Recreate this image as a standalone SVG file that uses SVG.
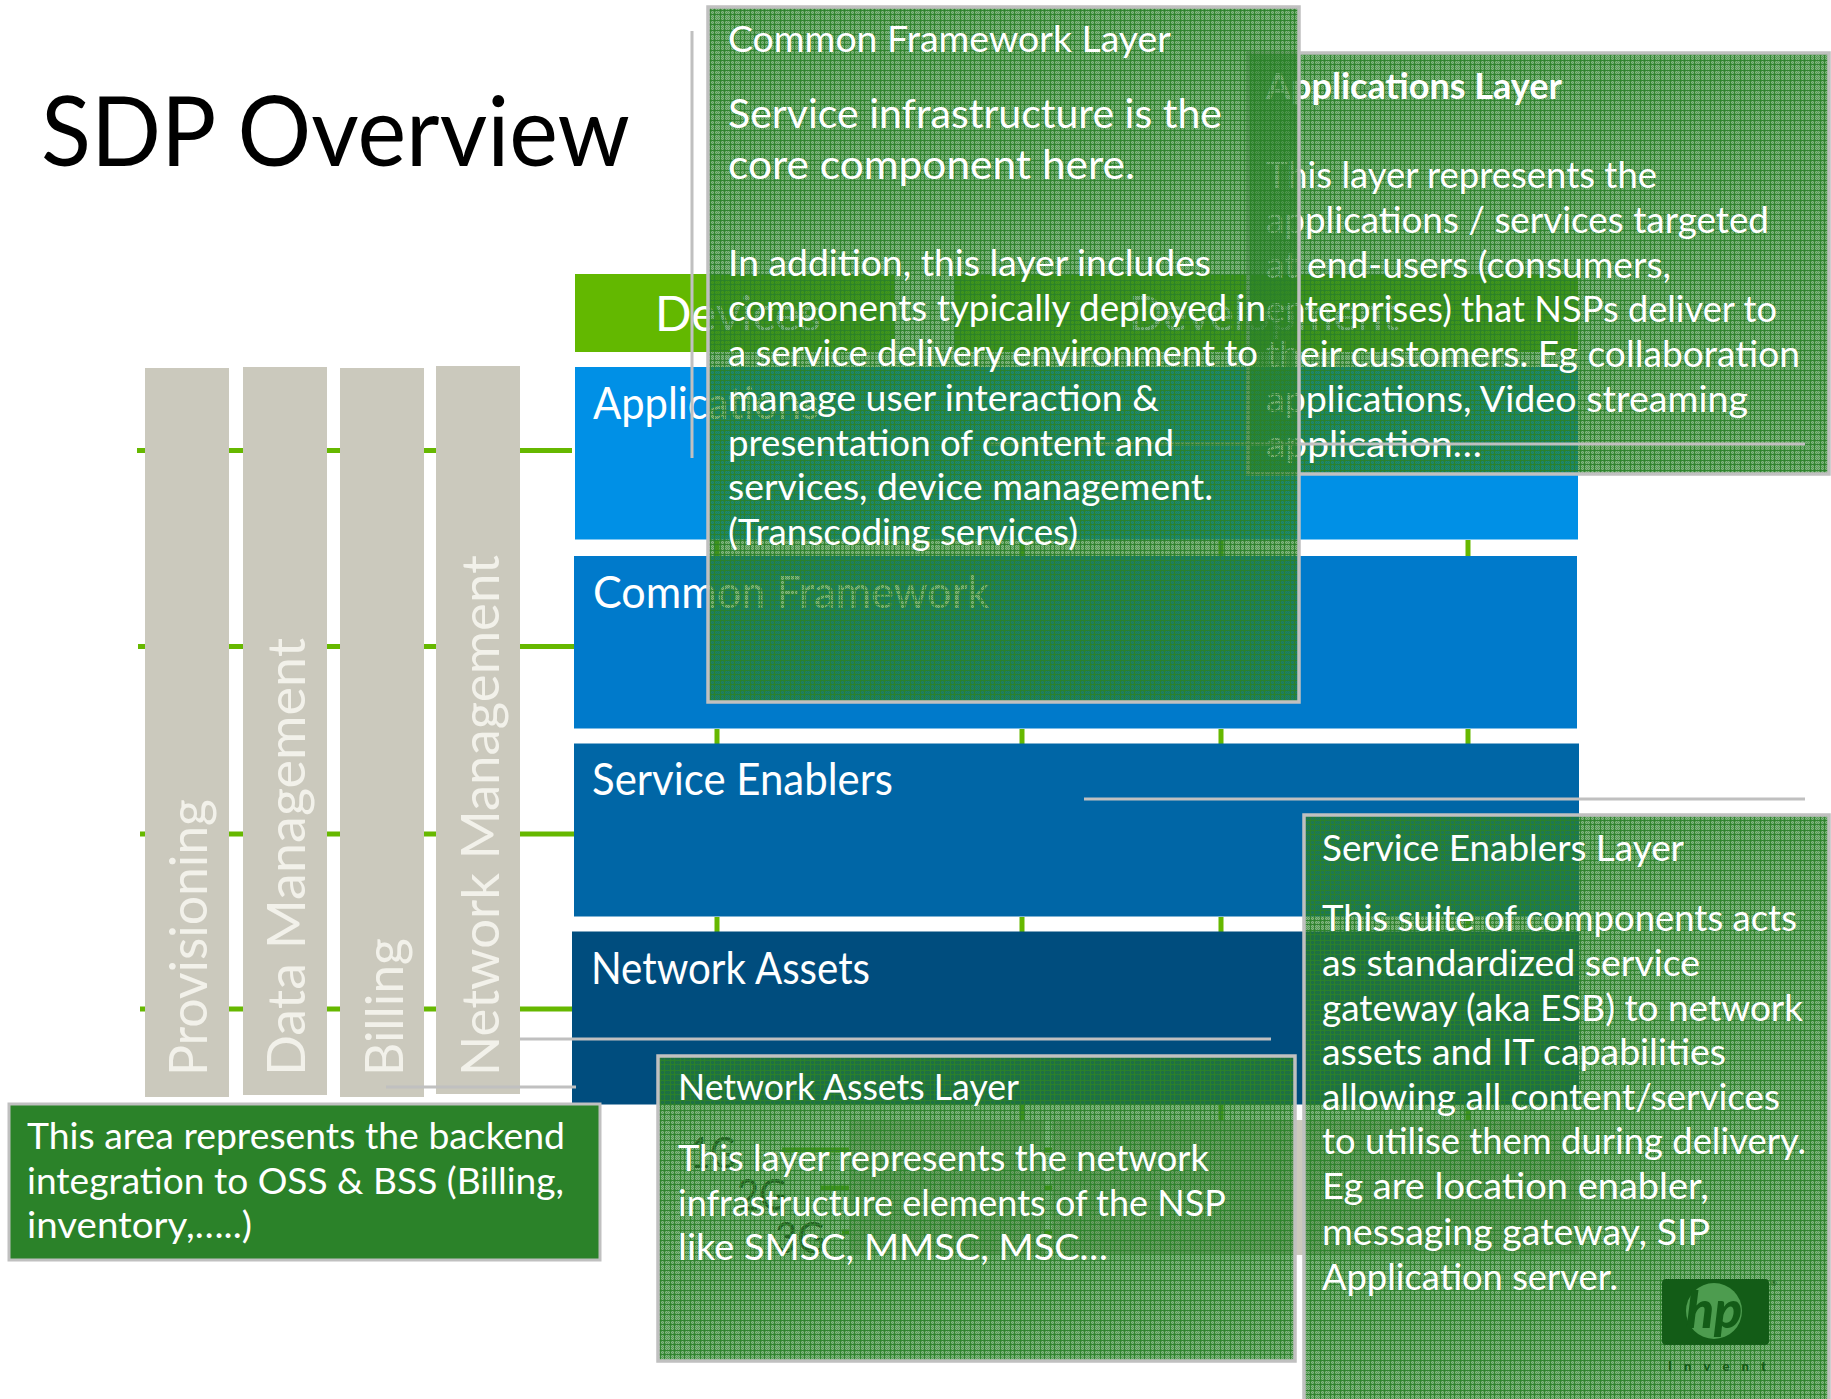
<svg xmlns="http://www.w3.org/2000/svg" width="1831" height="1399" viewBox="0 0 1831 1399">
<style>
text{font-family:"Lato","Liberation Sans",sans-serif}
.b{font-size:36px;fill:#fff}
.b2{font-size:41px;fill:#fff}
.h{font-size:44px;fill:#fff}
.col{font-size:52px;fill:#f2f1ea}
.g{fill:#66b800}
.lead{stroke:#c0c0c0;stroke-width:3;fill:none}
.colbox{fill:#cbc9bd}
.box{fill:url(#mesh);stroke:#c0c0c0;stroke-width:3.5}
</style>
<defs>
<pattern id="chk" width="2" height="2" patternUnits="userSpaceOnUse"><rect width="1" height="1" fill="#2b8229" fill-opacity=".5"/><rect x="1" y="1" width="1" height="1" fill="#2b8229" fill-opacity=".5"/></pattern>
<pattern id="mesh" width="10" height="10" patternUnits="userSpaceOnUse">
<rect width="10" height="10" fill="#2b8229" fill-opacity=".58" shape-rendering="crispEdges"/>
<rect width="10" height="10" fill="url(#chk)" shape-rendering="crispEdges"/>
<rect width="1" height="10" fill="#2b8229" fill-opacity=".9" shape-rendering="crispEdges"/>
<rect x="4" width="1" height="10" fill="#2b8229" fill-opacity=".9" shape-rendering="crispEdges"/>
<rect width="10" height="1" fill="#2b8229" fill-opacity=".9" shape-rendering="crispEdges"/>
<rect y="4" width="10" height="1" fill="#2b8229" fill-opacity=".9" shape-rendering="crispEdges"/>
</pattern>
</defs>
<rect width="1831" height="1399" fill="#fff"/>
<g id="title"><text x="41" y="166" font-size="96" fill="#000" textLength="589" lengthAdjust="spacingAndGlyphs">SDP Overview</text></g>

<g id="connectors">
<rect class="g" x="137" y="448" width="435" height="5"/>
<rect class="g" x="138" y="644" width="436" height="5"/>
<rect class="g" x="140" y="831.500" width="434" height="5"/>
<rect class="g" x="140" y="1006.500" width="432" height="5"/>
<rect class="g" x="714.500" y="540" width="5" height="16"/><rect class="g" x="1019.500" y="540" width="5" height="16"/><rect class="g" x="1218.500" y="540" width="5" height="16"/><rect class="g" x="1465.500" y="540" width="5" height="16"/>
<rect class="g" x="714.500" y="729" width="5" height="15"/><rect class="g" x="1019.500" y="729" width="5" height="15"/><rect class="g" x="1218.500" y="729" width="5" height="15"/><rect class="g" x="1465.500" y="729" width="5" height="15"/>
<rect class="g" x="714.500" y="917" width="5" height="15"/><rect class="g" x="1019.500" y="917" width="5" height="15"/><rect class="g" x="1218.500" y="917" width="5" height="15"/><rect class="g" x="1465.500" y="917" width="5" height="15"/>
<rect class="g" x="1019.500" y="1105" width="5" height="15"/><rect class="g" x="1218.500" y="1105" width="5" height="15"/><rect class="g" x="1465.500" y="1105" width="5" height="15"/>
<rect class="g" x="782" y="1147.500" width="270" height="5"/>
<rect class="g" x="821" y="1185.500" width="231" height="5"/>
<rect class="g" x="842" y="1229.500" width="210" height="5"/>
</g>

<g id="devices"><rect x="575" y="274" width="320" height="78" fill="#63b800"/><text x="655" y="331" font-size="48" fill="#fff">Devices</text></g>
<g id="development"><rect x="954" y="274" width="624" height="78" fill="#63b800"/><text x="1129" y="331" font-size="48" fill="#fff" textLength="270" lengthAdjust="spacingAndGlyphs">Development</text></g>
<g id="applications"><rect x="575" y="367" width="1003" height="172.500" fill="#0090e6"/><text class="h" x="593" y="419" textLength="226" lengthAdjust="spacingAndGlyphs">Applications</text></g>
<g id="common-framework"><rect x="574" y="556" width="1003" height="172.500" fill="#007acb"/><text class="h" x="593" y="608" textLength="396" lengthAdjust="spacingAndGlyphs">Common Framework</text></g>
<g id="service-enablers"><rect x="574" y="743.500" width="1005" height="173" fill="#0066a6"/><text class="h" x="592" y="795" textLength="301" lengthAdjust="spacingAndGlyphs">Service Enablers</text></g>
<g id="network-assets"><rect x="572" y="931.500" width="1007" height="173" fill="#004d7e"/><text class="h" x="591" y="984" textLength="279" lengthAdjust="spacingAndGlyphs">Network Assets</text></g>

<g id="generations" fill="#222">
<text x="690" y="1168" font-size="42" textLength="46" lengthAdjust="spacingAndGlyphs">1G</text>
<text x="737" y="1210" font-size="42" textLength="50" lengthAdjust="spacingAndGlyphs">2G</text>
<text x="775" y="1253" font-size="42" textLength="50" lengthAdjust="spacingAndGlyphs">3G</text>
<rect class="colbox" x="849" y="1120" width="195" height="135"/>
<rect class="colbox" x="1052" y="1120" width="527" height="135"/>
</g>

<g id="provisioning"><rect class="colbox" x="145" y="368" width="84" height="729"/><text class="col" transform="translate(206.500 1076) rotate(-90)" textLength="277" lengthAdjust="spacingAndGlyphs">Provisioning</text></g>
<g id="data-management"><rect class="colbox" x="243" y="367" width="84" height="728"/><text class="col" transform="translate(304.500 1076) rotate(-90)" textLength="438" lengthAdjust="spacingAndGlyphs">Data Management</text></g>
<g id="billing"><rect class="colbox" x="340" y="368" width="84" height="729"/><text class="col" transform="translate(402.500 1076) rotate(-90)" textLength="138" lengthAdjust="spacingAndGlyphs">Billing</text></g>
<g id="network-management"><rect class="colbox" x="436" y="366" width="84" height="728"/><text class="col" transform="translate(499 1076) rotate(-90)" textLength="521" lengthAdjust="spacingAndGlyphs">Network Management</text></g>

<g id="applications-layer">
<rect class="box" x="1248" y="53" width="581" height="421"/>
<text class="b" x="1266" y="99" font-weight="700" textLength="296" lengthAdjust="spacingAndGlyphs">Applications Layer</text>
<text class="b" x="1266" y="188" textLength="391" lengthAdjust="spacingAndGlyphs">This layer represents the</text>
<text class="b" x="1266" y="233" textLength="503" lengthAdjust="spacingAndGlyphs">applications / services targeted</text>
<text class="b" x="1266" y="278" textLength="405" lengthAdjust="spacingAndGlyphs">at end-users (consumers,</text>
<text class="b" x="1266" y="322" textLength="511" lengthAdjust="spacingAndGlyphs">enterprises) that NSPs deliver to</text>
<text class="b" x="1266" y="367" textLength="534" lengthAdjust="spacingAndGlyphs">their customers. Eg collaboration</text>
<text class="b" x="1266" y="412" textLength="482" lengthAdjust="spacingAndGlyphs">applications, Video streaming</text>
<text class="b" x="1266" y="457" textLength="216" lengthAdjust="spacingAndGlyphs">application…</text>
</g>

<g id="leaders">
<path class="lead" d="M692 31V458"/>
<path class="lead" d="M984 444H1805"/>
<path class="lead" d="M1084 799H1805"/>
<path class="lead" d="M520 1039H1271"/>
<path class="lead" d="M386 1087H576" stroke="#b8b8c0"/>
</g>

<g id="common-framework-layer">
<rect class="box" x="708" y="7" width="591" height="695"/>
<text class="b" x="728" y="52" textLength="443" lengthAdjust="spacingAndGlyphs">Common Framework Layer</text>
<text class="b2" x="728" y="128" textLength="494" lengthAdjust="spacingAndGlyphs">Service infrastructure is the</text>
<text class="b2" x="728" y="179" textLength="407" lengthAdjust="spacingAndGlyphs">core component here.</text>
<text class="b" x="728" y="276" textLength="483" lengthAdjust="spacingAndGlyphs">In addition, this layer includes</text>
<text class="b" x="728" y="321" textLength="538" lengthAdjust="spacingAndGlyphs">components typically deployed in</text>
<text class="b" x="728" y="366" textLength="530" lengthAdjust="spacingAndGlyphs">a service delivery environment to</text>
<text class="b" x="728" y="411" textLength="431" lengthAdjust="spacingAndGlyphs">manage user interaction &amp;</text>
<text class="b" x="728" y="456" textLength="446" lengthAdjust="spacingAndGlyphs">presentation of content and</text>
<text class="b" x="728" y="500" textLength="485" lengthAdjust="spacingAndGlyphs">services, device management.</text>
<text class="b" x="728" y="545" textLength="350" lengthAdjust="spacingAndGlyphs">(Transcoding services)</text>
</g>

<g id="service-enablers-layer">
<rect class="box" x="1304" y="815" width="525" height="590"/>
<text class="b" x="1322" y="861" textLength="362" lengthAdjust="spacingAndGlyphs">Service Enablers Layer</text>
<text class="b" x="1322" y="931" textLength="475" lengthAdjust="spacingAndGlyphs">This suite of components acts</text>
<text class="b" x="1322" y="976" textLength="378" lengthAdjust="spacingAndGlyphs">as standardized service</text>
<text class="b" x="1322" y="1021" textLength="481" lengthAdjust="spacingAndGlyphs">gateway (aka ESB) to network</text>
<text class="b" x="1322" y="1065" textLength="404" lengthAdjust="spacingAndGlyphs">assets and IT capabilities</text>
<text class="b" x="1322" y="1110" textLength="458" lengthAdjust="spacingAndGlyphs">allowing all content/services</text>
<text class="b" x="1322" y="1154" textLength="484" lengthAdjust="spacingAndGlyphs">to utilise them during delivery.</text>
<text class="b" x="1322" y="1199" textLength="387" lengthAdjust="spacingAndGlyphs">Eg are location enabler,</text>
<text class="b" x="1322" y="1245" textLength="388" lengthAdjust="spacingAndGlyphs">messaging gateway, SIP</text>
<text class="b" x="1322" y="1290" textLength="296" lengthAdjust="spacingAndGlyphs">Application server.</text>
</g>

<g id="hp-logo">
<rect x="1662" y="1279" width="107" height="66" rx="4" fill="#135c17"/>
<circle cx="1714" cy="1311" r="28" fill="#4d9c4f"/>
<text x="1714" y="1328" font-size="52" font-style="italic" font-weight="900" text-anchor="middle" fill="#135c17">hp</text>
<text x="1668" y="1371" font-size="13" font-weight="900" fill="#135c17" textLength="98">Invent</text>
<text x="1771" y="1286" font-size="7" fill="#135c17">®</text>
</g>

<g id="network-assets-layer">
<rect class="box" x="658" y="1056" width="637" height="305"/>
<text class="b" x="678" y="1100" textLength="341" lengthAdjust="spacingAndGlyphs">Network Assets Layer</text>
<text class="b" x="678" y="1171" textLength="531" lengthAdjust="spacingAndGlyphs">This layer represents the network</text>
<text class="b" x="678" y="1216" textLength="548" lengthAdjust="spacingAndGlyphs">infrastructure elements of the NSP</text>
<text class="b" x="678" y="1260" textLength="430" lengthAdjust="spacingAndGlyphs">like SMSC, MMSC, MSC…</text>
</g>

<g id="backend-note">
<rect x="9" y="1104" width="591" height="156" fill="#2b8229" stroke="#c0c0c0" stroke-width="3"/>
<text class="b" x="27" y="1149" textLength="538" lengthAdjust="spacingAndGlyphs">This area represents the backend</text>
<text class="b" x="27" y="1194" textLength="537" lengthAdjust="spacingAndGlyphs">integration to OSS &amp; BSS (Billing,</text>
<text class="b" x="27" y="1238" textLength="225" lengthAdjust="spacingAndGlyphs">inventory,…..)</text>
</g>
</svg>
